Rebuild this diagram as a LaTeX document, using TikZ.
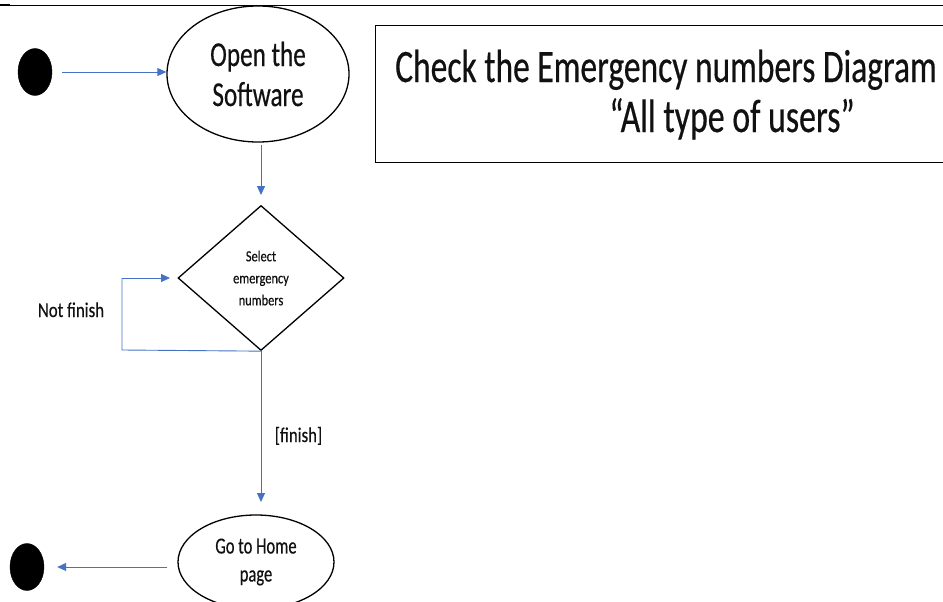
\documentclass[tikz,border=0pt]{standalone}
\usepackage{fontspec}
\setmainfont{Carlito}[FakeStretch=0.72, FakeBold=0.4]
\newfontfamily\condB{Carlito}[FakeStretch=0.8, FakeBold=0.4]
\usetikzlibrary{shapes.geometric,arrows.meta}
\definecolor{arrowblue}{HTML}{4472C4}
\definecolor{txt}{HTML}{111111}
\tikzset{
  flow/.style={draw=arrowblue, line width=0.9pt, -{Triangle[width=8pt,length=9pt]}},
  plainline/.style={draw=arrowblue, line width=0.9pt},
  act/.style={ellipse, draw=black, line width=1.3pt, inner sep=0pt, text=txt, align=center},
  dec/.style={diamond, draw=black, line width=1.3pt, inner sep=0pt, text=txt, align=center},
  blob/.style={ellipse, fill=black, draw=black, minimum width=34pt, minimum height=47pt, inner sep=0pt},
  lbl/.style={text=txt, inner sep=0pt}
}
\begin{document}
\begin{tikzpicture}[x=1pt,y=-1pt]
\clip (0,0) rectangle (943,602);
\fill[white] (0,0) rectangle (943,602);
% top rule
\draw[line width=0.9pt] (0,5) -- (943,5);
\draw[line width=2pt] (0,5) -- (10,5);
% title box
\node[draw=black, line width=1.3pt, minimum width=580pt, minimum height=137pt, inner sep=0pt, anchor=north west] (titlebox) at (375,25) {};
\node[lbl, anchor=base, font=\fontsize{46.5}{52}\selectfont] (t1) at (666,82) {Check the Emergency numbers Diagram};
\node[lbl, anchor=base, font=\fontsize{47}{52}\selectfont] (t2) at (732,132) {“All type of users”};
% nodes
\node[blob] (start) at (35,72) {};
\node[act, minimum width=182pt, minimum height=136pt, font=\fontsize{35}{40}\selectfont] (open) at (258,74) {Open the\\Software};
\node[dec, minimum width=166pt, minimum height=145pt, font=\condB\fontsize{15.5}{22}\selectfont] (sel) at (261,278) {Select\\emergency\\numbers};
\node[act, minimum width=156pt, minimum height=94pt, font=\fontsize{23}{28}\selectfont] (home) at (256,562) {Go to Home\\page};
\node[blob] (end) at (27,567) {};
% connectors
\draw[flow] (start.east) ++(10,0) coordinate (s0) -- (open.west |- s0);
\coordinate (a0) at (261,145);
\coordinate (a1) at (261,195);
\draw[flow] (a0) -- (a1);
\draw[flow] (sel.south) -- (sel.south |- 0,502) coordinate (h0);
\coordinate (loopA) at (122,350);
\coordinate (loopB) at (122,278);
\draw[plainline] (sel.south) -- (loopA) -- (loopB);
\draw[flow] (loopB) -- (170,278);
\draw[flow] (home.west |- 0,567) ++(-10,0) -- ([xshift=13pt]end.east |- 0,567);
% labels
\node[lbl, anchor=base, font=\condB\fontsize{21}{24}\selectfont] (nf) at (71,317) {Not finish};
\node[lbl, anchor=base, font=\condB\fontsize{21}{24}\selectfont] (fin) at (298.5,442) {[finish]};
\end{tikzpicture}
\end{document}
